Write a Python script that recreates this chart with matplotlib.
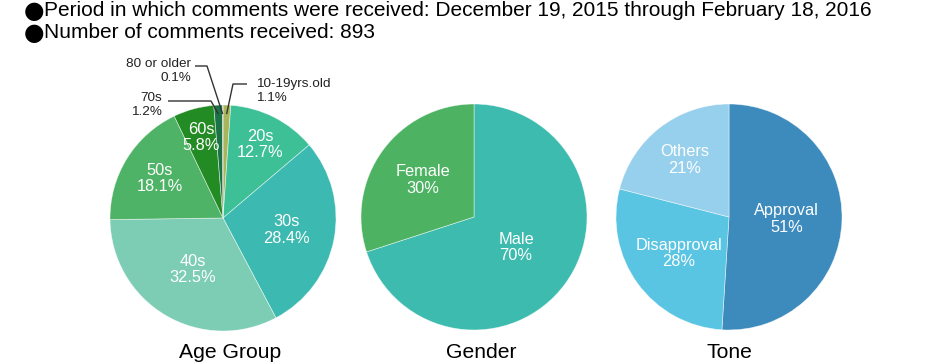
import matplotlib
matplotlib.use("Agg")
import matplotlib.pyplot as plt
import numpy as np

plt.rcParams['font.family'] = ['Liberation Sans', 'DejaVu Sans']

header_lines = ["Period in which comments were received: December 19, 2015 through February 18, 2016",
                "Number of comments received: 893"]

age_labels = ["10-19yrs.old", "20s", "30s", "40s", "50s", "60s", "70s", "80 or older"]
age_values = [1.1, 12.7, 28.4, 32.5, 18.1, 5.8, 1.2, 0.1]
age_colors = ["#a9b55a", "#3ec096", "#3cb9b0", "#7dcdb5", "#4eb366", "#238b23", "#1b7247", "#5f7f66"]

gender_labels = ["Male", "Female"]
gender_values = [70, 30]
gender_colors = ["#3cbbae", "#4db363"]

tone_labels = ["Approval", "Disapproval", "Others"]
tone_values = [51, 28, 21]
tone_colors = ["#3d8bbd", "#5ac4e3", "#97d0ec"]

titles = ["Age Group", "Gender", "Tone"]

W, H = 950, 364
fig = plt.figure(figsize=(W / 100, H / 100), dpi=100)
ax = fig.add_axes([0, 0, 1, 1])
ax.set_xlim(0, W)
ax.set_ylim(0, H)
ax.set_aspect('equal')
ax.axis('off')

R = 113
centers = [(223, H - 218), (474, H - 217), (729, H - 217)]
LBL_FS = 11.8


def draw_pie(values, colors, center):
    wedges, _ = ax.pie(values, colors=colors, startangle=90, counterclock=False,
                       center=center, radius=R,
                       wedgeprops=dict(edgecolor=(1, 1, 1, 0.6), linewidth=0.5))
    return wedges


def mid_angle(w):
    return np.deg2rad((w.theta1 + w.theta2) / 2)


# Age pie
age_w = draw_pie(age_values, age_colors, centers[0])
inside_age = {"20s": 0.73, "30s": 0.57, "40s": 0.53, "50s": 0.66, "60s": 0.74}
for lab, val, w in zip(age_labels, age_values, age_w):
    if lab in inside_age:
        a = mid_angle(w)
        f = inside_age[lab]
        x = centers[0][0] + f * R * np.cos(a)
        y = centers[0][1] + f * R * np.sin(a)
        ax.text(x, y, f"{lab}\n{val:.1f}%", color="white", fontsize=LBL_FS,
                ha="center", va="center", linespacing=1.12)

# External labels for small slices
ext = {
    "10-19yrs.old": (256, H - 91, "left", 233, H - 84, 247),
    "80 or older": (191, H - 71, "right", 207, H - 66, 195),
    "70s": (162, H - 105, "right", 211, H - 101, 168),
}
for lab, val, w in zip(age_labels, age_values, age_w):
    if lab in ext:
        tx, ty, ha, ex, ey, sx = ext[lab]
        a = mid_angle(w)
        px = centers[0][0] + 0.92 * R * np.cos(a)
        py = centers[0][1] + 0.92 * R * np.sin(a)
        ax.plot([sx, ex, px], [ey, ey, py], color="#333333", lw=1.0, solid_capstyle="butt")
        ax.text(tx, ty, f"{lab}\n{val:.1f}%", color="#222222", fontsize=9.7,
                ha=ha, va="center", linespacing=1.15, multialignment=ha)

# Gender pie
g_w = draw_pie(gender_values, gender_colors, centers[1])
for lab, val, w in zip(gender_labels, gender_values, g_w):
    a = mid_angle(w)
    f = 0.46 if lab == "Male" else 0.56
    x = centers[1][0] + f * R * np.cos(a)
    y = centers[1][1] + f * R * np.sin(a)
    ax.text(x, y, f"{lab}\n{val}%", color="white", fontsize=LBL_FS,
            ha="center", va="center", linespacing=1.12)

# Tone pie
t_w = draw_pie(tone_values, tone_colors, centers[2])
for lab, val, w in zip(tone_labels, tone_values, t_w):
    a = mid_angle(w)
    f = {"Approval": 0.51, "Disapproval": 0.55, "Others": 0.64}[lab]
    x = centers[2][0] + f * R * np.cos(a)
    y = centers[2][1] + f * R * np.sin(a)
    ax.text(x, y, f"{lab}\n{val}%", color="white", fontsize=LBL_FS,
            ha="center", va="center", linespacing=1.12)

# Titles
title_x = [230, 481, 729]
for tx, t in zip(title_x, titles):
    ax.text(tx, H - 352, t, fontsize=15.2, ha="center", va="center", color="black")

# Header
for i, line in enumerate(header_lines):
    yc = H - 11 - i * 22
    ax.text(34, yc, "\u25CF", fontsize=17, ha="center", va="center", color="black",
            family="DejaVu Sans")
    ax.text(44, yc, line, fontsize=15, ha="left", va="center", color="black")

ax.set_xlim(0, W)
ax.set_ylim(0, H)
fig.savefig("out.png", dpi=100)
